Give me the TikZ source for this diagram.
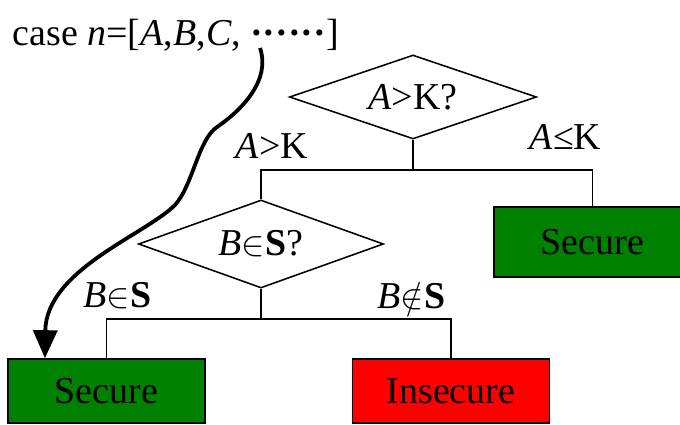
\documentclass[tikz,border=0pt]{standalone}
\usepackage{fontspec}
\setmainfont{Liberation Serif}
\usepackage{tikz}
\usetikzlibrary{arrows.meta, positioning, calc, shapes}

\definecolor{safegreen}{RGB}{0,128,0}
\definecolor{unsafered}{RGB}{255,0,0}

\begin{document}
\begin{tikzpicture}[>=Stealth, x=0.025cm, y=-0.025cm, line width=1.1pt,
            every node/.style={font=\fontsize{27}{32}\selectfont},
            query/.style={draw, diamond, aspect=2.8, inner sep=0pt},
            verdict/.style={draw, rectangle, minimum width=4.925cm, minimum height=1.6cm},
            branch/.style={anchor=base west, inner sep=0pt}]
            \useasboundingbox (0,0) rectangle (680,425);

            \node[branch] (case) at (12,46) {case \textit{n}=[\textit{A},\textit{B},\textit{C}, \textbf{······}]};

            \node[query, minimum width=6.175cm, minimum height=2.1cm] (qA) at (413,97) {\textit{A}>K?};
            \node[query, minimum width=6.125cm, minimum height=2.2cm] (qB) at (261,244) {\textit{B}$\in$\textbf{S}?};

            \node[verdict, fill=safegreen, minimum height=1.75cm] (secR) at (592.5,242) {Secure};
            \node[verdict, fill=safegreen] (secL) at (106.5,391) {Secure};
            \node[verdict, fill=unsafered] (insec) at (451,391) {Insecure};

            \node[branch] (yesA) at (235,159) {\textit{A}>K};
            \node[branch] (noA) at (529,150) {\textit{A}≤K};
            \node[branch] (yesB) at (83,308) {\textit{B}$\in$\textbf{S}};
            \node[branch] (noB) at (377,309) {\textit{B}$\notin$\textbf{S}};

            \coordinate (forkA) at ($(qA.south)+(0,30)$);
            \coordinate (forkB) at ($(qB.south)+(0,30)$);
            \coordinate (tail) at (260,48);

            \draw (qA.south) -- (forkA);
            \draw (qB.north) |- (forkA) -| (secR.north);
            \draw (qB.south) -- (forkB);
            \draw (secL.north) |- (forkB) -| (insec.north);

            % the case walks down to its verdict
            \draw[-{Triangle[length=0.7cm, width=0.6cm]}, line width=2.7pt]
                (tail) .. controls (271,80) and (242,110) .. (217,127)
                .. controls (198,140) and (193,185) .. (175,205)
                .. controls (145,235) and (46,270) .. ($(secL.north west)!0.19!(secL.north east)$);
        \end{tikzpicture}
\end{document}
